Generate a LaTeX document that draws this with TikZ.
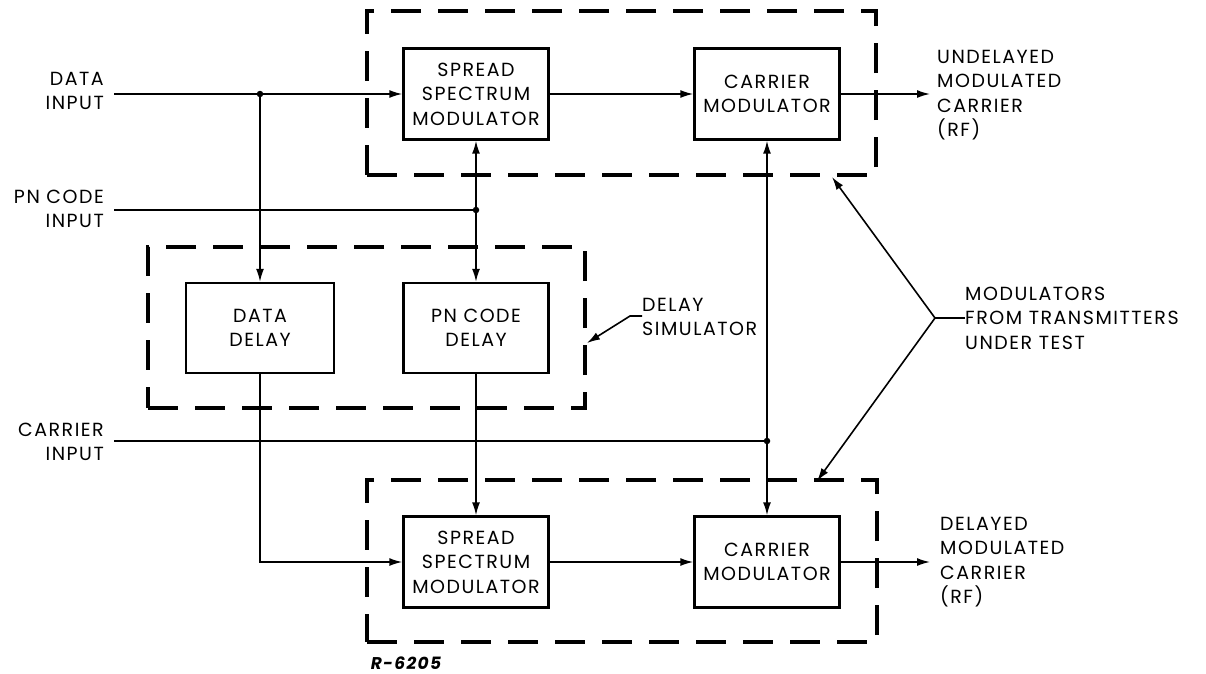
\documentclass[tikz,border=0pt]{standalone}
\usepackage{fontspec}
\setmainfont{Poppins}[LetterSpace=8]
\usetikzlibrary{arrows.meta}
\newcommand{\dglbl}{\fontsize{19}{24.5}\selectfont}
\begin{document}
\begin{tikzpicture}[x=1pt,y=-1pt,
  blk/.style={draw, line width=2.4pt, minimum width=145pt, minimum height=91pt,
              align=center, inner sep=0pt, font=\dglbl},
  grp/.style={draw, line width=3.5pt, dash pattern=on 30pt off 17pt,
              inner sep=0pt, fill=none},
  wire/.style={line width=1.6pt},
  arr/.style={wire, -{Latex[length=13pt,width=8pt]}},
  jdot/.style={circle, fill, inner sep=0pt, minimum size=6.5pt},
  txt/.style={font=\dglbl, inner sep=0pt}
]
\useasboundingbox (0,0) rectangle (1206,673);

% dashed group outlines
\node[grp, minimum width=509pt, minimum height=164pt] (gtop) at (621.5,93) {};
\node[grp, minimum width=437pt, minimum height=161pt] (gdel) at (366.5,327.5) {};
\node[grp, minimum width=510pt, minimum height=162pt] (gbot) at (622,561) {};

% blocks
\node[blk] (tssm) at (476,94) {SPREAD\\SPECTRUM\\MODULATOR};
\node[blk] (tcm)  at (767,94) {CARRIER\\MODULATOR};
\node[blk, minimum width=148pt, minimum height=90pt] (ddel) at (260,328) {DATA\\DELAY};
\node[blk, minimum height=90pt] (pdel) at (476,328) {PN CODE\\DELAY};
\node[blk] (bssm) at (476,562) {SPREAD\\SPECTRUM\\MODULATOR};
\node[blk] (bcm)  at (767,562) {CARRIER\\MODULATOR};

% junction dots
\node[jdot] (dj) at (260,94) {};
\node[jdot] (pj) at (476,210) {};
\node[jdot] (cj) at (767,441) {};

% free line ends
\coordinate (din)  at (114,94);
\coordinate (pin)  at (114,210);
\coordinate (cin)  at (114,441);
\coordinate (tout) at (930,94);
\coordinate (bout) at (930,562);

% input labels
\node[txt, align=right, anchor=east] (ldata) at (104,91) {DATA\\INPUT};
\node[txt, align=right, anchor=east] (lpn)   at (104,209) {PN CODE\\INPUT};
\node[txt, align=right, anchor=east] (lcar)  at (104,442) {CARRIER\\INPUT};

% output labels
\node[txt, align=left, anchor=west] (lund) at (937,95)
  {UNDELAYED\\MODULATED\\CARRIER\\(RF)};
\node[txt, align=left, anchor=west] (ldly) at (940,562)
  {DELAYED\\MODULATED\\CARRIER\\(RF)};
\node[txt, align=left, anchor=west] (lmod) at (965,318)
  {MODULATORS\\FROM TRANSMITTERS\\UNDER TEST};
\node[txt, align=left, anchor=west] (lsim) at (642,317)
  {DELAY\\SIMULATOR};
\node[inner sep=0pt, font=\fontsize{17}{19}\selectfont\bfseries\itshape] (ref) at (406,663) {R-6205};

% signal wiring
\draw[wire] (din) -- (dj);
\draw[arr] (dj) -- (tssm.west);
\draw[arr] (dj) -- (ddel.north);
\draw[wire] (pin) -- (pj);
\draw[arr] (pj) -- (tssm.south);
\draw[arr] (pj) -- (pdel.north);
\draw[wire] (cin) -- (cj);
\draw[arr] (cj) -- (tcm.south);
\draw[arr] (cj) -- (bcm.north);
\draw[arr] (tssm.east) -- (tcm.west);
\draw[arr] (tcm.east) -- (tout);
\draw[arr] (ddel.south) |- (bssm.west);
\draw[arr] (pdel.south) -- (bssm.north);
\draw[arr] (bssm.east) -- (bcm.west);
\draw[arr] (bcm.east) -- (bout);

% callout leaders
\coordinate (mk) at (935,318);
\draw[wire] (lmod.west |- mk) -- (mk);
\draw[arr] (mk) -- (832,177);
\draw[arr] (mk) -- (817,481);
\draw[arr] (lsim.west |- 0,316) -- (630,316) -- (587,343);
\end{tikzpicture}
\end{document}
